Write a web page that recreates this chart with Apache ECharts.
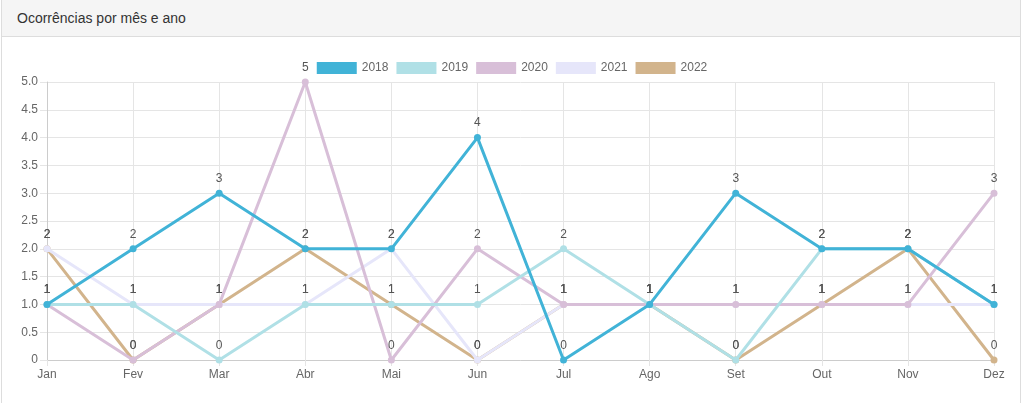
<!DOCTYPE html>
<html><head><meta charset="utf-8">
<script src="https://cdn.jsdelivr.net/npm/echarts@6/dist/echarts.min.js"></script>
<style>
html,body{margin:0;padding:0;width:1024px;height:403px;overflow:hidden;background:#fff;font-family:"Liberation Sans",Arial,Helvetica,sans-serif;}
#panel{position:absolute;left:1px;top:0;width:1020px;height:410px;border:1px solid #ddd;border-top:none;box-sizing:border-box;}
#head{position:absolute;left:0;top:0;width:100%;height:37px;background:#f5f5f5;border-bottom:1px solid #ddd;box-sizing:border-box;color:#333;font-size:14px;line-height:36px;padding-left:15px;}
#chart{position:absolute;left:0;top:38px;width:1024px;height:365px;}
</style></head>
<body>
<div id="panel"><div id="head">Ocorrências por mês e ano</div></div>
<div id="chart"></div>
<script>
var months = ["Jan","Fev","Mar","Abr","Mai","Jun","Jul","Ago","Set","Out","Nov","Dez"];
var years = ["2018","2019","2020","2021","2022"];
var colors = ["#41b3d7","#b0e0e6","#d8bfd8","#e6e6fa","#d2b48c"];
var v2018 = [1,2,3,2,2,4,0,1,3,2,2,1];
var v2019 = [1,1,0,1,1,1,2,1,0,2,2,1];
var v2020 = [1,0,1,5,0,2,1,1,1,1,1,3];
var v2021 = [2,1,1,1,2,0,1,1,1,1,1,1];
var v2022 = [2,0,1,2,1,0,1,1,0,1,2,0];
var values = [v2018,v2019,v2020,v2021,v2022];
var FONT = 'Liberation Sans, Arial, Helvetica, sans-serif';

var chart = echarts.init(document.getElementById('chart'));
var series = years.map(function(y,i){
  return {
    name:y, type:'line', data:values[i], z:10-i,
    lineStyle:{width:3,color:colors[i]},
    itemStyle:{color:colors[i]},
    symbol:'circle', symbolSize:7, showSymbol:true,
    label:{show:true,position:'top',distance:5,color:'#555',fontSize:12,fontFamily:FONT},
    emphasis:{disabled:true},
    animation:false
  };
});
chart.setOption({
  animation:false,
  color:colors,
  legend:{
    top:19,left:'center',itemWidth:40,itemHeight:12,itemGap:8,
    icon:'rect',
    textStyle:{color:'#666',fontSize:12,fontFamily:FONT},
    data:years
  },
  grid:{left:47,right:30,top:44,bottom:43,containLabel:false},
  xAxis:{
    type:'category',data:months,boundaryGap:false,
    axisLine:{lineStyle:{color:'#ccc'}},
    axisTick:{show:true,length:6,lineStyle:{color:'#e5e5e5'}},
    axisLabel:{color:'#666',fontSize:12,margin:9,fontFamily:FONT},
    splitLine:{show:true,lineStyle:{color:'#e5e5e5'}}
  },
  yAxis:{
    type:'value',min:0,max:5,interval:0.5,
    axisLine:{show:true,lineStyle:{color:'#ccc'}},
    axisTick:{show:true,length:7,lineStyle:{color:'#e5e5e5'}},
    axisLabel:{color:'#666',fontSize:12,margin:9,fontFamily:FONT,
      formatter:function(v){return v===0?'0':v.toFixed(1);}},
    splitLine:{show:true,lineStyle:{color:'#e5e5e5'}}
  },
  series:series
});
</script>
</body></html>
